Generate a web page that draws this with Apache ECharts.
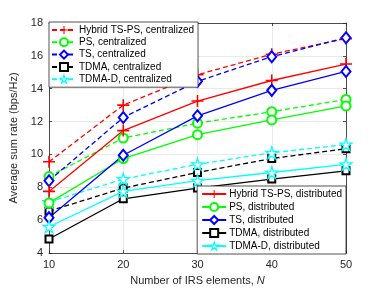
<!DOCTYPE html>
<html><head><meta charset="utf-8">
<script src="https://cdn.jsdelivr.net/npm/echarts@6/dist/echarts.min.js"></script>
<style>html,body{margin:0;padding:0;background:#fff}#c{width:382px;height:291px}</style>
</head><body><div id="c"></div>
<script>
const N = [10, 20, 30, 40, 50];
const hybridCen = [9.55, 13.0, 14.85, 16.1, 17.05];
const psCen = [8.65, 11.0, 11.9, 12.6, 13.35];
const tsCen = [8.4, 12.25, 14.45, 15.95, 17.1];
const tdmaCen = [6.55, 7.95, 8.9, 9.75, 10.35];
const tdmadCen = [7.1, 8.5, 9.4, 10.1, 10.6];
const hybridDis = [7.75, 11.45, 13.25, 14.5, 15.5];
const psDis = [7.05, 9.75, 11.2, 12.1, 12.95];
const tsDis = [6.15, 9.95, 12.35, 13.9, 15.05];
const tdmaDis = [4.85, 7.3, 7.95, 8.5, 9.0];
const tdmadDis = [5.6, 7.75, 8.4, 8.9, 9.4];
const xTicks = [10, 20, 30, 40, 50];
const yTicks = [4, 6, 8, 10, 12, 14, 16, 18];

const FONT = 'Liberation Sans';
const AX = '#262626';
const PLUS = 'path://M4.35,0H5.65V4.35H10V5.65H5.65V10H4.35V5.65H0V4.35H4.35Z';
const STAR = 'path://M5,0L6.117,3.463L9.755,3.455L6.807,5.587L7.939,9.045L5,6.9L2.061,9.045L3.193,5.587L0.245,3.455L3.883,3.463Z';

function mk(name, data, color, kind, dashed) {
  const s = {
    name, type: 'line', data: N.map((x, i) => [x, data[i]]),
    lineStyle: { color, width: 1.3, type: dashed ? [5, 3] : 'solid' },
    itemStyle: { color, borderColor: color, borderWidth: 1.2 },
    emphasis: { disabled: true }, animation: false, showAllSymbol: true
  };
  if (kind === 'plus') { s.symbol = PLUS; s.symbolSize = 12; s.itemStyle = { color, borderWidth: 0 }; }
  if (kind === 'circle') { s.symbol = 'emptyCircle'; s.symbolSize = 9; }
  if (kind === 'diamond') { s.symbol = 'emptyDiamond'; s.symbolSize = [9, 11]; }
  if (kind === 'square') { s.symbol = 'emptyRect'; s.symbolSize = 7; }
  if (kind === 'star') { s.symbol = STAR; s.symbolSize = 12; s.itemStyle = { color: '#fff', borderColor: color, borderWidth: 1.2 }; }
  s._kind = kind; s._color = color;
  return s;
}

const series = [
  mk('Hybrid TS-PS, centralized', hybridCen, '#ff0000', 'plus', true),
  mk('PS, centralized', psCen, '#00ff00', 'circle', true),
  mk('TS, centralized', tsCen, '#0000ff', 'diamond', true),
  mk('TDMA, centralized', tdmaCen, '#000000', 'square', true),
  mk('TDMA-D, centralized', tdmadCen, '#00ffff', 'star', true),
  mk('Hybrid TS-PS, distributed', hybridDis, '#ff0000', 'plus', false),
  mk('PS, distributed', psDis, '#00ff00', 'circle', false),
  mk('TS, distributed', tsDis, '#0000ff', 'diamond', false),
  mk('TDMA, distributed', tdmaDis, '#000000', 'square', false),
  mk('TDMA-D, distributed', tdmadDis, '#00ffff', 'star', false)
];

function legendItem(s) {
  const it = { name: s.name };
  if (s._kind === 'star') it.itemStyle = { color: '#fff', borderColor: s._color, borderWidth: 1.2 };
  return it;
}

const legendBase = {
  orient: 'vertical', backgroundColor: '#fff', borderColor: AX, borderWidth: 0.8,
  itemGap: 2.3, itemWidth: 24, itemHeight: 10, selectedMode: false,
  textStyle: { fontFamily: FONT, fontSize: 10, color: '#000', padding: [0, 0, 0, -2] }
};

const tickStyle = { show: true, inside: true, length: 3, lineStyle: { color: AX, width: 0.8 } };
const xMain = { type: 'value', min: 10, max: 50, interval: 10, position: 'bottom',
  axisLine: { show: true, lineStyle: { color: AX, width: 0.8 } }, axisTick: tickStyle,
  axisLabel: { fontFamily: FONT, fontSize: 11, color: AX, margin: 6, formatter: v => xTicks.includes(v) ? String(v) : '' },
  splitLine: { show: true, lineStyle: { color: '#e3e3e3', width: 0.8 } },
  name: '{a|Number of IRS elements, }{b|N}', nameLocation: 'middle', nameGap: 22,
  nameTextStyle: { rich: { a: { fontFamily: FONT, fontSize: 11, color: AX }, b: { fontFamily: FONT, fontSize: 11, color: AX, fontStyle: 'italic' } } }
};
const xTop = { type: 'value', min: 10, max: 50, interval: 10, position: 'top',
  axisLine: { show: true, lineStyle: { color: AX, width: 0.8 } }, axisTick: tickStyle,
  axisLabel: { show: false }, splitLine: { show: false } };
const yMain = { type: 'value', min: 4, max: 18, interval: 2, position: 'left',
  axisLine: { show: true, lineStyle: { color: AX, width: 0.8 } }, axisTick: tickStyle,
  axisLabel: { fontFamily: FONT, fontSize: 11, color: AX, margin: 6, formatter: v => yTicks.includes(v) ? String(v) : '' },
  splitLine: { show: true, lineStyle: { color: '#e3e3e3', width: 0.8 } },
  name: 'Average sum rate (bps/Hz)', nameLocation: 'middle', nameGap: 28,
  nameTextStyle: { fontFamily: FONT, fontSize: 11, color: AX }
};
const yRight = { type: 'value', min: 4, max: 18, interval: 2, position: 'right',
  axisLine: { show: true, lineStyle: { color: AX, width: 0.8 } }, axisTick: tickStyle,
  axisLabel: { show: false }, splitLine: { show: false } };

const chart = echarts.init(document.getElementById('c'), null, { renderer: 'canvas' });
chart.setOption({
  animation: false,
  grid: { left: 49, right: 36, top: 23, bottom: 37, containLabel: false },
  xAxis: [xMain, xTop],
  yAxis: [yMain, yRight],
  legend: [
    Object.assign({}, legendBase, { left: 49, top: 22, padding: [3, 4, 3, 2], data: series.slice(0, 5).map(legendItem) }),
    Object.assign({}, legendBase, { right: 36, bottom: 37, padding: [3, 4, 3, 4], itemGap: 3, data: series.slice(5).map(legendItem) })
  ],
  series: series.map(s => { const c = Object.assign({}, s); delete c._kind; delete c._color; return c; })
});
</script></body></html>
